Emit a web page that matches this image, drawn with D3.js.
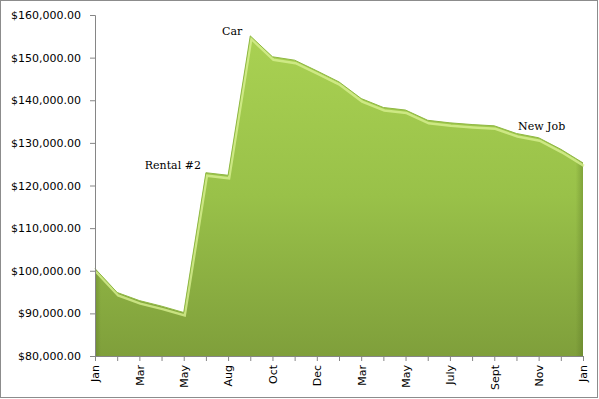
<!DOCTYPE html>
<html lang="en">
<head>
  <meta charset="UTF-8">
  <title></title>
  <style>
    html, body {
      margin: 0;
      overflow: hidden;
      width: 100%;
      height: 100%;
      background: white;
    }
    svg {
      position: absolute;
      top: 0;
      left: 0;
    }
  </style>
</head>
<body>
  <svg width="599" height="399"></svg>
</body>
<script src="https://d3js.org/d3.v7.min.js"></script>
<script type="text/javascript">
  const months = ['Jan', 'Feb', 'Mar', 'Apr', 'May', 'June', 'Aug', 'Sep', 'Oct', 'Nov', 'Dec', 'Feb',
    'Mar', 'Apr', 'May', 'June', 'July', 'Aug', 'Sept', 'Oct', 'Nov', 'Dec', 'Jan ']
  const balance = [100500, 94900, 93000, 91700, 90200, 123000, 122400, 155100, 150200, 149400, 146900, 144300,
    140400, 138300, 137700, 135300, 134700, 134300, 134000, 132200, 131200, 128500, 125300]
  const yTicks = [80000, 90000, 100000, 110000, 120000, 130000, 140000, 150000, 160000]
  const notes = [
    {i: 5, text: 'Rental #2', dx: -5, dy: -4, anchor: 'end'},
    {i: 7, text: 'Car', dx: -8, dy: -1, anchor: 'end'},
    {i: 20, text: 'New Job', dx: 3, dy: -8, anchor: 'middle'}
  ]

  const svg = d3.select('svg')
  const width = 599, height = 399
  const margin = {left: 95, right: 16, top: 15, bottom: 43}

  const x = d3.scalePoint()
    .domain(d3.range(months.length))
    .range([margin.left, width - margin.right])
  const y = d3.scaleLinear()
    .domain([80000, 160000])
    .range([height - margin.bottom, margin.top])

  // outer frame
  svg.append('rect')
    .attr('x', 0.5).attr('y', 0.5)
    .attr('width', width - 2).attr('height', height - 2)
    .attr('fill', 'white')
    .attr('stroke', '#8c8c8c')

  const defs = svg.append('defs')
  const grad = defs.append('linearGradient')
    .attr('id', 'fillGrad')
    .attr('x1', 0).attr('y1', 0).attr('x2', 0).attr('y2', 1)
    .attr('gradientUnits', 'userSpaceOnUse')
    .attr('y1', y(155000)).attr('y2', y(80000))
  grad.append('stop').attr('offset', 0).attr('stop-color', '#a9d152')
  grad.append('stop').attr('offset', 0.5).attr('stop-color', '#99c149')
  grad.append('stop').attr('offset', 1).attr('stop-color', '#7f9f3b')

  const side = defs.append('linearGradient')
    .attr('id', 'sideGrad')
    .attr('gradientUnits', 'userSpaceOnUse')
    .attr('x1', x(0)).attr('x2', x(months.length - 1)).attr('y1', 0).attr('y2', 0)
  side.append('stop').attr('offset', 0).attr('stop-color', '#4f6a1e').attr('stop-opacity', 0.35)
  side.append('stop').attr('offset', 0.012).attr('stop-color', '#4f6a1e').attr('stop-opacity', 0)
  side.append('stop').attr('offset', 0.985).attr('stop-color', '#4f6a1e').attr('stop-opacity', 0)
  side.append('stop').attr('offset', 1).attr('stop-color', '#4f6a1e').attr('stop-opacity', 0.35)

  const area = d3.area()
    .x((d, i) => x(i))
    .y0(y(80000))
    .y1(d => y(d))

  svg.append('path')
    .datum(balance)
    .attr('d', area)
    .attr('fill', 'url(#fillGrad)')

  svg.append('path')
    .datum(balance)
    .attr('d', area)
    .attr('fill', 'url(#sideGrad)')

  // bevel highlight along the top edge
  const edge = d3.line()
    .x((d, i) => x(i))
    .y(d => y(d))

  svg.append('path')
    .datum(balance)
    .attr('d', edge)
    .attr('fill', 'none')
    .attr('stroke', '#d8f091')
    .attr('stroke-width', 2.5)
    .attr('transform', 'translate(1,3)')
    .attr('opacity', 0.8)

  svg.append('path')
    .datum(balance)
    .attr('d', edge)
    .attr('fill', 'none')
    .attr('stroke', '#8fb843')
    .attr('stroke-width', 1)

  // axes
  const yAxis = d3.axisLeft(y)
    .tickValues(yTicks)
    .tickSize(5)
    .tickFormat(d => '$' + d3.format(',.2f')(d))
  const gy = svg.append('g')
    .attr('transform', `translate(${margin.left},0)`)
    .call(yAxis)
  gy.select('.domain').attr('stroke', '#868686')
  gy.selectAll('.tick line').attr('stroke', '#868686')
  gy.selectAll('text')
    .attr('font-family', 'Tahoma, "DejaVu Sans", sans-serif')
    .attr('font-size', 11)
    .attr('fill', '#000')
    .attr('x', -14)

  const xAxis = d3.axisBottom(x)
    .tickSize(5)
    .tickFormat(i => i % 2 === 0 ? months[i] : '')
  const gx = svg.append('g')
    .attr('transform', `translate(0,${height - margin.bottom})`)
    .call(xAxis)
  gx.select('.domain').attr('stroke', '#868686')
  gx.selectAll('.tick line').attr('stroke', '#868686')
  gx.selectAll('text')
    .attr('font-family', 'Tahoma, "DejaVu Sans", sans-serif')
    .attr('font-size', 11)
    .attr('fill', '#000')
    .attr('transform', 'rotate(-90)')
    .attr('text-anchor', 'end')
    .attr('x', -9)
    .attr('y', 0)
    .attr('dy', '0.35em')

  // annotations
  svg.selectAll('text.note')
    .data(notes)
    .enter()
    .append('text')
    .attr('class', 'note')
    .attr('x', d => x(d.i) + d.dx)
    .attr('y', d => y(balance[d.i]) + d.dy)
    .attr('text-anchor', d => d.anchor)
    .attr('font-family', '"DejaVu Serif", serif')
    .attr('font-size', 11)
    .attr('fill', '#000')
    .text(d => d.text)
</script>
</html>
